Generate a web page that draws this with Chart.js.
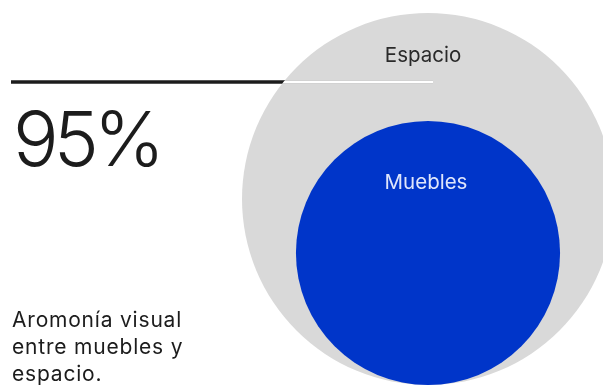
<!DOCTYPE html>
<html>
<head>
<meta charset="utf-8">
<script src="https://cdn.jsdelivr.net/npm/chart.js@4"></script>
<style>
  body { margin: 0; background: #fff; }
  #wrap { position: relative; width: 603px; height: 387px; overflow: hidden; font-family: Inter, "Noto Sans", sans-serif; color: #1c1c1c; }
  #myChart { position: absolute; left: 0; top: 0; }
  #big { position: absolute; left: 13px; top: 100px; font-size: 76px; line-height: 76px; font-weight: 300; letter-spacing: -5px; }
  #caption { position: absolute; left: 12px; top: 306px; font-size: 21px; line-height: 27px; font-weight: 400; letter-spacing: 0.8px; }
</style>
</head>
<body>
<div id="wrap">
  <canvas id="myChart" width="603" height="387"></canvas>
  <div id="big"></div>
  <div id="caption"></div>
</div>
<script>
// datos del grafico
const categories = ['Espacio', 'Muebles'];
const sizes = [1, 0.71];          // radio relativo de cada circulo
const colors = ['#d9d9d9', '#0035c9'];
const labelColors = ['#2a2a2a', '#dfe6fb'];
const highlight = '95%';
const captionLines = ['Aromonía visual', 'entre muebles y', 'espacio.'];

document.getElementById('big').textContent = highlight;
document.getElementById('caption').innerHTML = captionLines.join('<br>');

// escala: pixeles por unidad
const unitPx = 186;
const pad = { left: 242, top: 13, right: 0, bottom: 0 };
const xMax = -1 + (603 - pad.left) / unitPx;
const yMin = 1 - (387 - pad.top) / unitPx;

// los circulos pequeños se apoyan en el fondo del grande
const points = sizes.map((s) => ({ x: 0, y: -(sizes[0] - s), r: s * unitPx }));

const labelBaseline = [49, 68]; // distancia del borde superior a la linea base

const circleDecor = {
  id: 'circleDecor',
  afterDatasetsDraw(chart) {
    const c = chart.ctx;
    const meta = chart.getDatasetMeta(0);
    const outer = meta.data[0];
    const outerR = outer.options.radius;

    // linea negra que se vuelve blanca dentro del circulo
    c.save();
    c.lineWidth = 3.5;
    c.strokeStyle = '#1c1c1c';
    c.beginPath();
    c.moveTo(11, 82);
    c.lineTo(433, 82);
    c.stroke();
    c.beginPath();
    c.arc(outer.x, outer.y, outerR, 0, Math.PI * 2);
    c.clip();
    c.strokeStyle = '#ffffff';
    c.beginPath();
    c.moveTo(11, 82);
    c.lineTo(433, 82);
    c.stroke();
    c.restore();

    // etiquetas
    c.save();
    c.font = '400 20.5px Inter, "Noto Sans", sans-serif';
    c.textAlign = 'center';
    c.textBaseline = 'alphabetic';
    meta.data.forEach((el, i) => {
      const r = el.options.radius;
      c.fillStyle = labelColors[i];
      c.fillText(categories[i], el.x - (i === 0 ? 5 : 2), el.y - r + labelBaseline[i]);
    });
    c.restore();
  }
};

const ctx = document.getElementById('myChart');
var myChart = new Chart(ctx, {
  type: 'bubble',
  data: {
    labels: categories,
    datasets: [{
      data: points,
      backgroundColor: colors,
      borderWidth: 0,
      clip: false
    }]
  },
  options: {
    responsive: false,
    animation: false,
    events: [],
    layout: { padding: pad, autoPadding: false },
    plugins: { legend: { display: false }, tooltip: { enabled: false } },
    scales: {
      x: { type: 'linear', min: -1, max: xMax, display: false },
      y: { type: 'linear', min: yMin, max: 1, display: false }
    }
  },
  plugins: [circleDecor]
});
</script>
</body>
</html>
